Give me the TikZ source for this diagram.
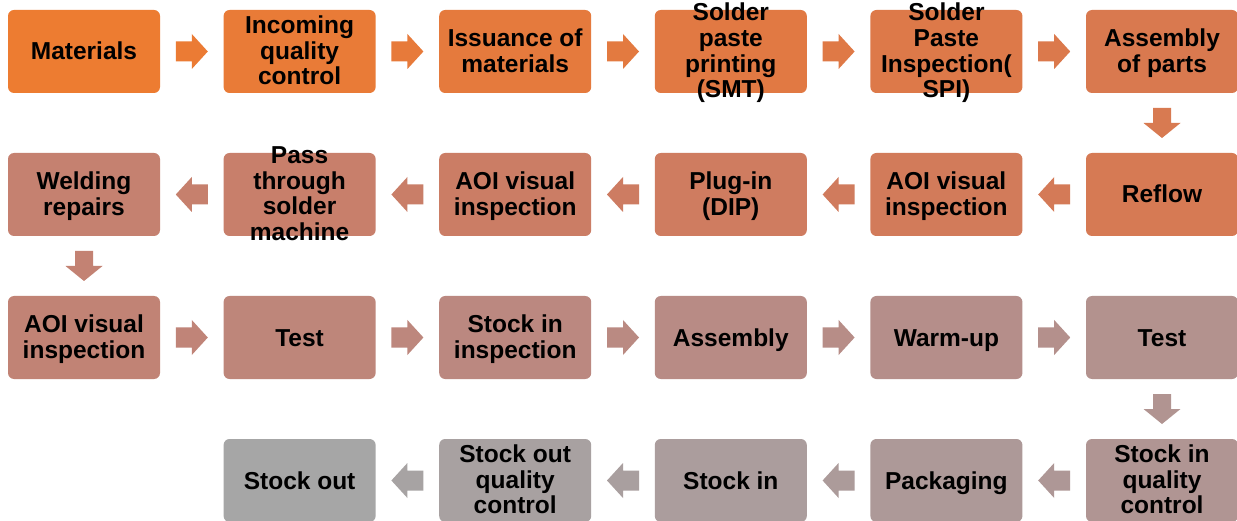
\documentclass[tikz,border=0pt]{standalone}
\usepackage{fontspec}
\setmainfont{Liberation Sans}
\usetikzlibrary{calc}
\newcommand\defhsl[2]{%
 \pgfmathsetmacro\myH{24*(1-#2)}%
 \pgfmathsetmacro\myS{0.84*(1-#2)}%
 \pgfmathsetmacro\myL{0.56+0.09*#2}%
 \pgfmathsetmacro\myC{(1-abs(2*\myL-1))*\myS}%
 \pgfmathsetmacro\myM{\myL-\myC/2}%
 \pgfmathsetmacro\myR{\myC+\myM}%
 \pgfmathsetmacro\myG{\myC*\myH/60+\myM}%
 \xglobal\definecolor{#1}{rgb}{\myR,\myG,\myM}}
\foreach \i in {0,...,22}{\pgfmathsetmacro\myT{\i/22}\defhsl{c\i}{\myT}}
\foreach \i in {0,...,21}{\pgfmathsetmacro\myT{(\i+0.5)/22}\defhsl{a\i}{\myT}}
\newcommand\arrR[3]{\path ($(#1.east)!0.5!(#2.west)$) coordinate (m);
 \fill[#3] (m) ++(-16,-10) -- ++(16,0) -- ++(0,-7.5) -- ++(16,17.5) -- ++(-16,17.5) -- ++(0,-7.5) -- ++(-16,0) -- cycle;}
\newcommand\arrL[3]{\path ($(#1.west)!0.5!(#2.east)$) coordinate (m);
 \fill[#3] (m) ++(16,-10) -- ++(-16,0) -- ++(0,-7.5) -- ++(-16,17.5) -- ++(16,17.5) -- ++(0,-7.5) -- ++(16,0) -- cycle;}
\newcommand\arrD[3]{\path ($(#1.south)!0.5!(#2.north)$) coordinate (m);
 \fill[#3] (m) ++(-9,-15) -- ++(0,15) -- ++(-9.5,0) -- ++(18.5,15) -- ++(18.5,-15) -- ++(-9.5,0) -- ++(0,-15) -- cycle;}
\newcommand\topstrut{\rule{0pt}{22.2pt}}
\newcommand\botstrut{\rule[-5.2pt]{0pt}{5.2pt}}
\tikzset{
 box/.style={rectangle, rounded corners=6pt, minimum width=152pt, minimum height=83pt, inner sep=0pt, fill=#1},
 txt/.style={font=\bfseries\fontsize{24.5}{25.6}\selectfont, align=center, text=black, inner sep=0pt,
   execute at begin node={\topstrut}, execute at end node={\botstrut}},
 mtxt/.style={txt, yshift=-1.5pt}
}
\begin{document}
\begin{tikzpicture}[x=1pt,y=-1pt]
\useasboundingbox[fill=white] (0,0) rectangle (1237,521);
% row 1
\node[box=c0, label={[txt]center:{Materials}}] (b0) at (84,51.5) {};
\node[box=c1, label={[mtxt]center:{Incoming\\quality\\control}}] (b1) at (299.6,51.5) {};
\node[box=c2, label={[mtxt]center:{Issuance of\\materials}}] (b2) at (515.2,51.5) {};
\node[box=c3, label={[mtxt]center:{Solder\\paste\\printing\\(SMT)}}] (b3) at (730.8,51.5) {};
\node[box=c4, label={[mtxt]center:{Solder\\Paste\\Inspection(\\SPI)}}] (b4) at (946.4,51.5) {};
\node[box=c5, label={[mtxt]center:{Assembly\\of parts}}] (b5) at (1162,51.5) {};
% row 2
\node[box=c6, label={[txt]center:{Reflow}}] (b6) at (1162,194.5) {};
\node[box=c7, label={[mtxt]center:{AOI visual\\inspection}}] (b7) at (946.4,194.5) {};
\node[box=c8, label={[mtxt]center:{Plug-in\\(DIP)}}] (b8) at (730.8,194.5) {};
\node[box=c9, label={[mtxt]center:{AOI visual\\inspection}}] (b9) at (515.2,194.5) {};
\node[box=c10, label={[mtxt]center:{Pass\\through\\solder\\machine}}] (b10) at (299.6,194.5) {};
\node[box=c11, label={[mtxt]center:{Welding\\repairs}}] (b11) at (84,194.5) {};
% row 3
\node[box=c12, label={[mtxt]center:{AOI visual\\inspection}}] (b12) at (84,337.5) {};
\node[box=c13, label={[txt]center:{Test}}] (b13) at (299.6,337.5) {};
\node[box=c14, label={[mtxt]center:{Stock in\\inspection}}] (b14) at (515.2,337.5) {};
\node[box=c15, label={[txt]center:{Assembly}}] (b15) at (730.8,337.5) {};
\node[box=c16, label={[txt]center:{Warm-up}}] (b16) at (946.4,337.5) {};
\node[box=c17, label={[txt]center:{Test}}] (b17) at (1162,337.5) {};
% row 4
\node[box=c18, label={[mtxt]center:{Stock in\\quality\\control}}] (b18) at (1162,480.5) {};
\node[box=c19, label={[txt]center:{Packaging}}] (b19) at (946.4,480.5) {};
\node[box=c20, label={[txt]center:{Stock in}}] (b20) at (730.8,480.5) {};
\node[box=c21, label={[mtxt]center:{Stock out\\quality\\control}}] (b21) at (515.2,480.5) {};
\node[box=c22, label={[txt]center:{Stock out}}] (b22) at (299.6,480.5) {};
% arrows
\arrR{b0}{b1}{a0}
\arrR{b1}{b2}{a1}
\arrR{b2}{b3}{a2}
\arrR{b3}{b4}{a3}
\arrR{b4}{b5}{a4}
\arrD{b5}{b6}{a5}
\arrL{b6}{b7}{a6}
\arrL{b7}{b8}{a7}
\arrL{b8}{b9}{a8}
\arrL{b9}{b10}{a9}
\arrL{b10}{b11}{a10}
\arrD{b11}{b12}{a11}
\arrR{b12}{b13}{a12}
\arrR{b13}{b14}{a13}
\arrR{b14}{b15}{a14}
\arrR{b15}{b16}{a15}
\arrR{b16}{b17}{a16}
\arrD{b17}{b18}{a17}
\arrL{b18}{b19}{a18}
\arrL{b19}{b20}{a19}
\arrL{b20}{b21}{a20}
\arrL{b21}{b22}{a21}
\end{tikzpicture}
\end{document}
